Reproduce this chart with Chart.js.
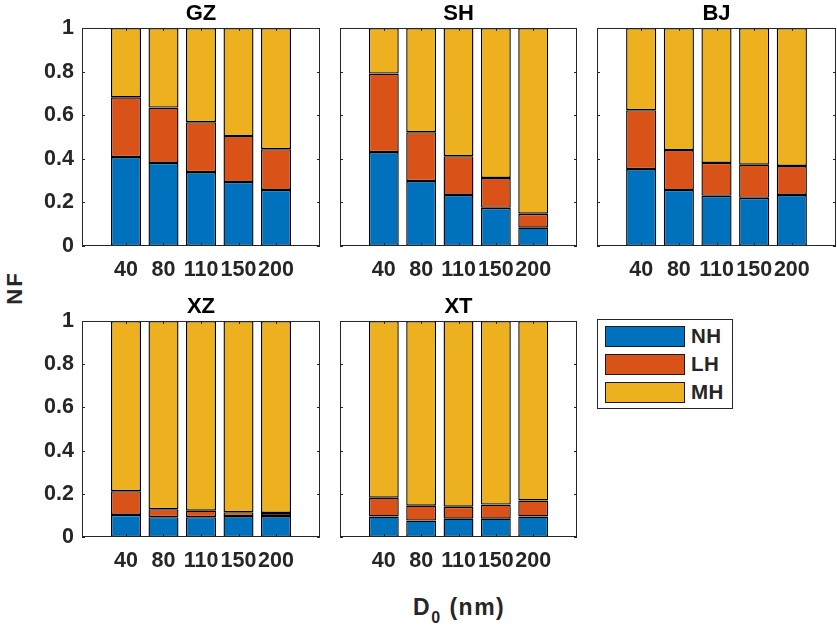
<!DOCTYPE html>
<html>
<head>
<meta charset="utf-8">
<script src="https://cdn.jsdelivr.net/npm/chart.js@4.4.1/dist/chart.umd.min.js"></script>
<style>
  body { margin: 0; width: 837px; height: 633px; overflow: hidden; background: #fff; position: relative;
         font-family: "Liberation Sans", Arial, sans-serif; }
  canvas { position: absolute; }
  .lbl { position: absolute; font-weight: bold; color: #262626; white-space: nowrap; }
  #legend { position: absolute; left: 597px; top: 319px; width: 134px; height: 88px; border: 1px solid #262626; background: #fff; }
  .item { position: absolute; left: 7px; height: 20px; }
  .sw { position: absolute; left: 0; top: 0; width: 78px; height: 19px; border: 1px solid #1a1a1a; }
  .item span { position: absolute; left: 86px; top: -1px; font: bold 20.5px "Liberation Sans", Arial, sans-serif; color: #262626; line-height: 22px; letter-spacing: 0.5px; }
</style>
</head>
<body>
<div class="lbl" id="ylab" style="left:-10px;top:275px;font-size:22px;letter-spacing:2px;transform:rotate(-90deg);width:50px;text-align:center;">NF</div>
<div class="lbl" id="xlab" style="left:413px;top:594px;font-size:23px;letter-spacing:1.5px;">D<sub style="font-size:16px;vertical-align:-8px;">0</sub> (nm)</div>
<div id="legend"></div>
<script>
// particle diameter classes and series
const diameters = ['40', '80', '110', '150', '200'];
const seriesNames = ['NH', 'LH', 'MH'];
const seriesColors = ['#0072BD', '#D95319', '#EDB120'];
const yTicks = [0, 0.2, 0.4, 0.6, 0.8, 1];

const nhGZ = [0.408, 0.381, 0.339, 0.294, 0.257];
const lhGZ = [0.274, 0.254, 0.229, 0.210, 0.187];
const mhGZ = [0.318, 0.365, 0.432, 0.496, 0.556];

const nhSH = [0.431, 0.298, 0.234, 0.175, 0.084];
const lhSH = [0.360, 0.224, 0.178, 0.137, 0.064];
const mhSH = [0.209, 0.478, 0.588, 0.688, 0.852];

const nhBJ = [0.353, 0.257, 0.230, 0.221, 0.234];
const lhBJ = [0.270, 0.183, 0.151, 0.152, 0.133];
const mhBJ = [0.377, 0.560, 0.619, 0.627, 0.633];

const nhXZ = [0.102, 0.092, 0.092, 0.097, 0.097];
const lhXZ = [0.110, 0.037, 0.030, 0.018, 0.014];
const mhXZ = [0.788, 0.871, 0.878, 0.885, 0.889];

const nhXT = [0.095, 0.076, 0.085, 0.085, 0.095];
const lhXT = [0.087, 0.069, 0.055, 0.065, 0.074];
const mhXT = [0.818, 0.855, 0.860, 0.850, 0.831];

// axes boxes in page pixels
const panels = [
  { name: 'GZ', series: [nhGZ, lhGZ, mhGZ], box: [82, 28, 320, 246], yLabels: true },
  { name: 'SH', series: [nhSH, lhSH, mhSH], box: [340, 28, 577, 246], yLabels: false },
  { name: 'BJ', series: [nhBJ, lhBJ, mhBJ], box: [597, 28, 836, 246], yLabels: false },
  { name: 'XZ', series: [nhXZ, lhXZ, mhXZ], box: [82, 321, 320, 537], yLabels: true },
  { name: 'XT', series: [nhXT, lhXT, mhXT], box: [340, 321, 577, 537], yLabels: false },
];

const axisColor = '#262626';
const tickFont = { family: '"Liberation Sans", Arial, sans-serif', size: 21.5, weight: 'bold' };

const boxAndTicks = {
  id: 'boxAndTicks',
  afterDatasetsDraw(chart) {
    const { ctx, chartArea: a, scales } = chart;
    ctx.save();
    ctx.strokeStyle = axisColor;
    ctx.lineWidth = 1;
    ctx.strokeRect(a.left + 0.5, a.top + 0.5, a.right - a.left - 1, a.bottom - a.top - 1);
    ctx.beginPath();
    for (let i = 0; i < diameters.length; i++) {
      const px = Math.round(scales.x.getPixelForValue(i + 1)) + 0.5;
      ctx.moveTo(px, a.bottom); ctx.lineTo(px, a.bottom - 3);
      ctx.moveTo(px, a.top); ctx.lineTo(px, a.top + 3);
    }
    yTicks.forEach(v => {
      const py = Math.round(scales.y.getPixelForValue(v)) + 0.5;
      ctx.moveTo(a.left, py); ctx.lineTo(a.left + 3, py);
      ctx.moveTo(a.right, py); ctx.lineTo(a.right - 3, py);
    });
    ctx.stroke();
    ctx.restore();
  }
};

panels.forEach(p => {
  const [l, t, r, b] = p.box;
  const w = r - l, h = b - t;
  const cv = document.createElement('canvas');
  cv.width = w + 164;
  cv.height = h + 28 + 40;
  cv.style.left = (l - 82) + 'px';
  cv.style.top = (t - 28) + 'px';
  document.body.appendChild(cv);

  new Chart(cv, {
    type: 'bar',
    data: {
      datasets: p.series.map((vals, k) => ({
        label: seriesNames[k],
        data: vals.map((v, i) => ({ x: i + 1, y: v })),
        backgroundColor: seriesColors[k],
        borderColor: '#000',
        borderWidth: 1.4,
        borderSkipped: false,
        barPercentage: 1,
        categoryPercentage: 0.8,
      })),
    },
    options: {
      responsive: false,
      animation: false,
      devicePixelRatio: 1,
      layout: { padding: 0 },
      plugins: {
        legend: { display: false },
        tooltip: { enabled: false },
        title: {
          display: true, text: p.name, color: '#000',
          font: { family: '"Liberation Sans", Arial, sans-serif', size: 22, weight: 'bold', lineHeight: 1.09 },
          padding: { top: 2, bottom: 2 },
        },
      },
      scales: {
        x: {
          type: 'linear', min: -0.173, max: 6.173, offset: false, stacked: true,
          grid: { display: false, drawTicks: false }, border: { display: false },
          afterBuildTicks: s => { s.ticks = diameters.map((d, i) => ({ value: i + 1 })); },
          afterFit: s => { s.height = 40; },
          ticks: {
            autoSkip: false, maxRotation: 0, padding: 11, color: axisColor, font: tickFont,
            callback: v => diameters[v - 1],
          },
        },
        y: {
          min: 0, max: 1, stacked: true,
          grid: { display: false, drawTicks: false }, border: { display: false },
          afterBuildTicks: s => { s.ticks = yTicks.map(v => ({ value: v })); },
          afterFit: s => { s.width = 82; },
          ticks: {
            display: p.yLabels, padding: 8, color: axisColor, font: tickFont,
            callback: v => String(Math.round(v * 10) / 10),
          },
        },
        // empty right axis keeps the plot box centred under the title
        yRight: {
          type: 'linear', position: 'right', min: 0, max: 1,
          grid: { display: false, drawTicks: false }, border: { display: false },
          ticks: { display: false },
          afterFit: s => { s.width = 82; },
        },
      },
    },
    plugins: [boxAndTicks],
  });
});

// legend box
const legend = document.getElementById('legend');
seriesNames.forEach((n, k) => {
  const it = document.createElement('div');
  it.className = 'item';
  it.style.top = (6 + k * 28) + 'px';
  it.innerHTML = '<div class="sw" style="background:' + seriesColors[k] + '"></div><span>' + n + '</span>';
  legend.appendChild(it);
});
</script>
</body>
</html>
